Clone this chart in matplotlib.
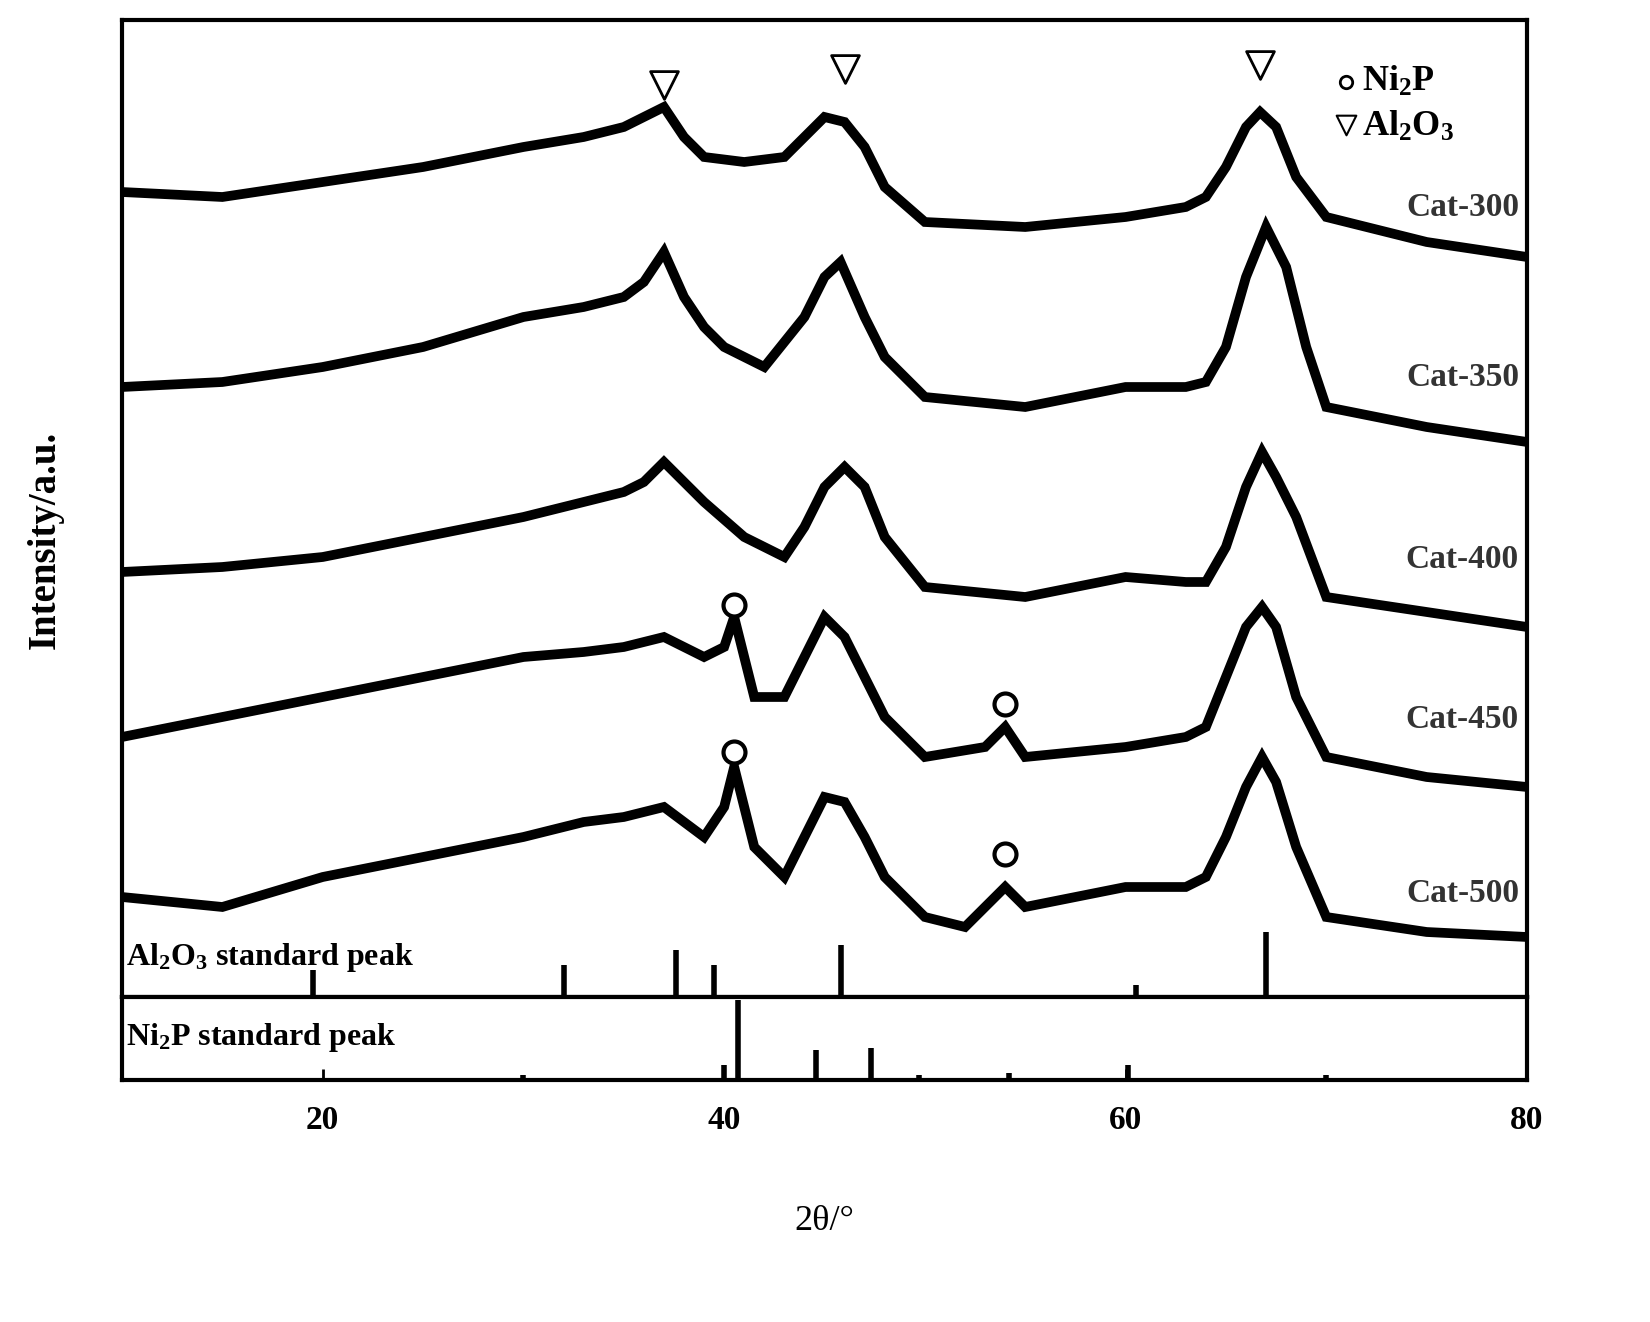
import matplotlib
matplotlib.use("Agg")
import matplotlib.pyplot as plt
import numpy as np

plt.rcParams['font.family'] = ['Liberation Serif', 'DejaVu Serif']
plt.rcParams['font.weight'] = 'bold'
plt.rcParams['mathtext.fontset'] = 'custom'
plt.rcParams['mathtext.rm'] = 'Liberation Serif:bold'
plt.rcParams['mathtext.it'] = 'Liberation Serif:bold'
plt.rcParams['mathtext.bf'] = 'Liberation Serif:bold'
plt.rcParams['mathtext.default'] = 'rm'

# curve samples: (2theta, intensity in arbitrary stacked units)
x300 = [10,15,20,25,30,33,35,36,37,38,39,41,43,44,45,46,47,48,50,55,60,63,64,65,66,66.7,67.5,68.5,70,75,80]
y300 = [805,800,815,830,850,860,870,880,890,860,840,835,840,860,880,875,850,810,775,770,780,790,800,830,870,885,870,820,780,755,740]
x350 = [10,15,20,25,30,33,35,36,37,38,39,40,42,44,45,45.8,47,48,50,55,60,63,64,65,66,67,68,69,70,75,80]
y350 = [610,615,630,650,680,690,700,715,745,700,670,650,630,680,720,735,680,640,600,590,610,610,615,650,720,770,730,650,590,570,555]
x400 = [10,15,20,25,30,33,35,36,37,38,39,41,43,44,45,46,47,48,50,55,60,63,64,65,66,66.8,67.5,68.5,70,75,80]
y400 = [425,430,440,460,480,495,505,515,535,515,495,460,440,470,510,530,510,460,410,400,420,415,415,450,510,545,520,480,400,385,370]
x450 = [10,15,20,25,30,33,35,37,39,40,40.5,41.5,43,44,45,46,47,48,50,53,54,55,60,63,64,65,66,66.8,67.5,68.5,70,75,80]
y450 = [260,280,300,320,340,345,350,360,340,350,380,300,300,340,380,360,320,280,240,250,270,240,250,260,270,320,370,390,370,300,240,220,210]
x500 = [10,15,20,25,30,33,35,37,39,40,40.5,41.5,43,44,45,46,47,48,50,52,53.5,54,55,60,63,64,65,66,66.8,67.5,68.5,70,75,80]
y500 = [100,90,120,140,160,175,180,190,160,190,230,150,120,160,200,195,160,120,80,70,100,110,90,110,110,120,160,210,240,215,150,80,65,60]
curves = [(x300, y300, 'Cat-300', 790), (x350, y350, 'Cat-350', 620),
          (x400, y400, 'Cat-400', 437), (x450, y450, 'Cat-450', 278), (x500, y500, 'Cat-500', 103)]

al_pos = [19.5, 32, 37.6, 39.5, 45.8, 60.5, 67]
al_h = [27, 32, 47, 32, 52, 12, 65]
ni_pos = [30, 40, 40.7, 44.6, 47.3, 49.7, 54.2, 60.1, 70]
ni_h = [5, 15, 80, 30, 32, 5, 7, 15, 5]

tri_x = [37, 46, 66.7]; tri_y = [912, 928, 932]
circ_x = [40.5, 54, 40.5, 54]; circ_y = [392, 293, 245, 143]

fig = plt.figure(figsize=(16.5, 13.22), dpi=100)
W, H = 1650, 1322
ax = fig.add_axes([122/W, 1-997/H, (1527-122)/W, (997-20)/H])
ax2 = fig.add_axes([122/W, 1-1080/H, (1527-122)/W, (1080-997)/H])

for xs, ys, lab, ly in curves:
    ax.plot(xs, ys, color='black', lw=7, solid_joinstyle='miter')
    ax.text(79.6, ly, lab, ha='right', va='center', fontsize=24, color='#333333')
ax.vlines(al_pos, 0, al_h, color='black', lw=4)
ax.scatter(tri_x, tri_y, marker='v', s=400, facecolors='white', edgecolors='black', linewidths=2, zorder=5)
ax.scatter(circ_x, circ_y, marker='o', s=250, facecolors='white', edgecolors='black', linewidths=3, zorder=5)
ax.text(10.2, 40, r'Al$_2$O$_3$ standard peak', fontsize=23, va='center')
ax.scatter([71.0], [915], marker='o', s=80, facecolors='white', edgecolors='black', linewidths=2)
ax.scatter([71.0], [872], marker='v', s=200, facecolors='white', edgecolors='black', linewidths=1.5)
ax.text(71.8, 915, r'Ni$_2$P', fontsize=26, va='center')
ax.text(71.8, 870, r'Al$_2$O$_3$', fontsize=26, va='center')
ax.set_xlim(10, 80); ax.set_ylim(0, 977)
ax.set_xticks([]); ax.set_yticks([])

ax2.vlines(ni_pos, 0, ni_h, color='black', lw=4)
ax2.text(10.2, 43, r'Ni$_2$P standard peak', fontsize=23, va='center')
ax2.set_xlim(10, 80); ax2.set_ylim(0, 83)
ax2.set_yticks([])
ax2.set_xticks([20, 40, 60, 80])
ax2.tick_params(axis='x', direction='in', length=8, width=2, labelsize=24, pad=18)
for a in (ax, ax2):
    for s in a.spines.values():
        s.set_linewidth(3)
ax2.set_xlabel('2θ/°', fontsize=26, labelpad=50)
fig.text(45/W, 1-540/H, 'Intensity/a.u.', rotation=90, fontsize=28, ha='center', va='center')
fig.savefig('out.png', dpi=100)
